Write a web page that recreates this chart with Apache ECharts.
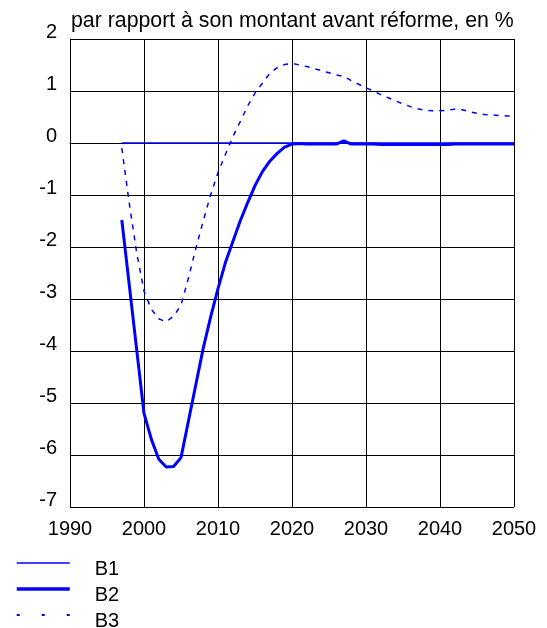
<!DOCTYPE html>
<html>
<head>
<meta charset="utf-8">
<script src="https://cdn.jsdelivr.net/npm/echarts@6/dist/echarts.min.js"></script>
<style>
  html, body { margin: 0; padding: 0; background: #fff; }
  #chart { width: 547px; height: 628px; }
</style>
</head>
<body>
<div id="chart"></div>
<script>
const years = [
  1997, 1998, 1999, 2000, 2001, 2002, 2003, 2004, 2005, 2006,
  2007, 2008, 2009, 2010, 2011, 2012, 2013, 2014, 2015, 2016,
  2017, 2018, 2019, 2020, 2021, 2022, 2023, 2024, 2025, 2026,
  2027, 2028, 2029, 2030, 2031, 2032, 2033, 2034, 2035, 2036,
  2037, 2038, 2039, 2040, 2041, 2042, 2043, 2044, 2045, 2046,
  2047, 2048, 2049, 2050
]

// B1 : reste a zero sur toute la periode
const b1 = [
  0, 0, 0, 0, 0, 0, 0, 0, 0, 0,
  0, 0, 0, 0, 0, 0, 0, 0, 0, 0,
  0, 0, 0, 0, 0, 0, 0, 0, 0, 0,
  0, 0, 0, 0, 0, 0, 0, 0, 0, 0,
  0, 0, 0, 0, 0, 0, 0, 0, 0, 0,
  0, 0, 0, 0
]

const b2 = [
  -1.48, -2.72, -3.96, -5.2, -5.7, -6.08, -6.23, -6.22, -6.05, -5.35,
  -4.65, -3.95, -3.35, -2.8, -2.3, -1.9, -1.5, -1.15, -0.82, -0.55,
  -0.35, -0.2, -0.08, -0.02, -0.01, -0.02, -0.02, -0.02, -0.02, -0.02,
  0.04, -0.02, -0.02, -0.02, -0.02, -0.03, -0.03, -0.03, -0.03, -0.03,
  -0.03, -0.03, -0.03, -0.03, -0.03, -0.02, -0.02, -0.02, -0.02, -0.02,
  -0.02, -0.02, -0.02, -0.02
]

const b3 = [
  -0.1, -1.15, -2.1, -2.85, -3.2, -3.38, -3.44, -3.33, -3.12, -2.6,
  -2.03, -1.5, -1.0, -0.57, -0.22, 0.12, 0.41, 0.71, 0.96, 1.15,
  1.34, 1.45, 1.51, 1.53, 1.5, 1.47, 1.43, 1.39, 1.35, 1.31,
  1.28, 1.2, 1.13, 1.06, 1.0, 0.93, 0.87, 0.81, 0.75, 0.7,
  0.66, 0.63, 0.62, 0.62, 0.63, 0.65, 0.64, 0.6, 0.57, 0.55,
  0.54, 0.53, 0.52, 0.52
]

const FONT = 'Liberation Sans, Arial, sans-serif'
const BLUE = '#0000ff'

function pairs(values) {
  return years.map((y, i) => [y, values[i]])
}

const chart = echarts.init(document.getElementById('chart'), null, { renderer: 'canvas' })

chart.setOption({
  animation: false,
  backgroundColor: '#fff',
  title: {
    text: 'par rapport à son montant avant réforme, en %',
    left: 66,
    top: 6,
    textStyle: {
      fontFamily: FONT,
      fontSize: 21.3,
      fontWeight: 'normal',
      color: '#000'
    }
  },
  grid: {
    left: 70,
    right: 33,
    top: 39,
    bottom: 121
  },
  legend: {
    orient: 'vertical',
    left: 15,
    top: 547,
    height: 140,
    padding: 0,
    itemWidth: 53,
    itemHeight: 14,
    itemGap: -6,
    itemStyle: { opacity: 0 },
    // ligne vide en tete : le libelle tombe un peu sous le trait, comme sur l'original
    formatter: (name) => '\n' + name,
    data: [
      { name: 'B1', lineStyle: { width: 1.5 } },
      { name: 'B2', lineStyle: { width: 3.5 } },
      { name: 'B3', lineStyle: { width: 2, type: [3, 22] } }
    ],
    textStyle: {
      fontFamily: FONT,
      fontSize: 20,
      color: '#000',
      lineHeight: 12,
      padding: [0, 0, 0, 20]
    }
  },
  xAxis: {
    type: 'value',
    min: 1990,
    max: 2050,
    interval: 10,
    axisLine: { lineStyle: { color: '#000', width: 1 } },
    axisTick: { show: false },
    axisLabel: {
      fontFamily: FONT,
      fontSize: 20,
      color: '#000',
      margin: 12,
      formatter: (v) => String(v)
    },
    splitLine: { lineStyle: { color: '#000', width: 1 } }
  },
  yAxis: {
    type: 'value',
    min: -7,
    max: 2,
    interval: 1,
    axisLine: { show: true, lineStyle: { color: '#000', width: 1 } },
    axisTick: { show: false },
    axisLabel: {
      fontFamily: FONT,
      fontSize: 20,
      color: '#000',
      margin: 13,
      verticalAlign: 'bottom',
      lineHeight: 14
    },
    splitLine: { lineStyle: { color: '#000', width: 1 } }
  },
  series: [
    {
      name: 'B1',
      type: 'line',
      symbol: 'none',
      data: pairs(b1),
      lineStyle: { color: BLUE, width: 1.5 },
      itemStyle: { color: BLUE }
    },
    {
      name: 'B2',
      type: 'line',
      symbol: 'none',
      data: pairs(b2),
      lineStyle: { color: BLUE, width: 3 },
      itemStyle: { color: BLUE }
    },
    {
      name: 'B3',
      type: 'line',
      symbol: 'none',
      data: pairs(b3),
      lineStyle: { color: BLUE, width: 1.5, type: [5, 6] },
      itemStyle: { color: BLUE }
    }
  ]
})
</script>
</body>
</html>
